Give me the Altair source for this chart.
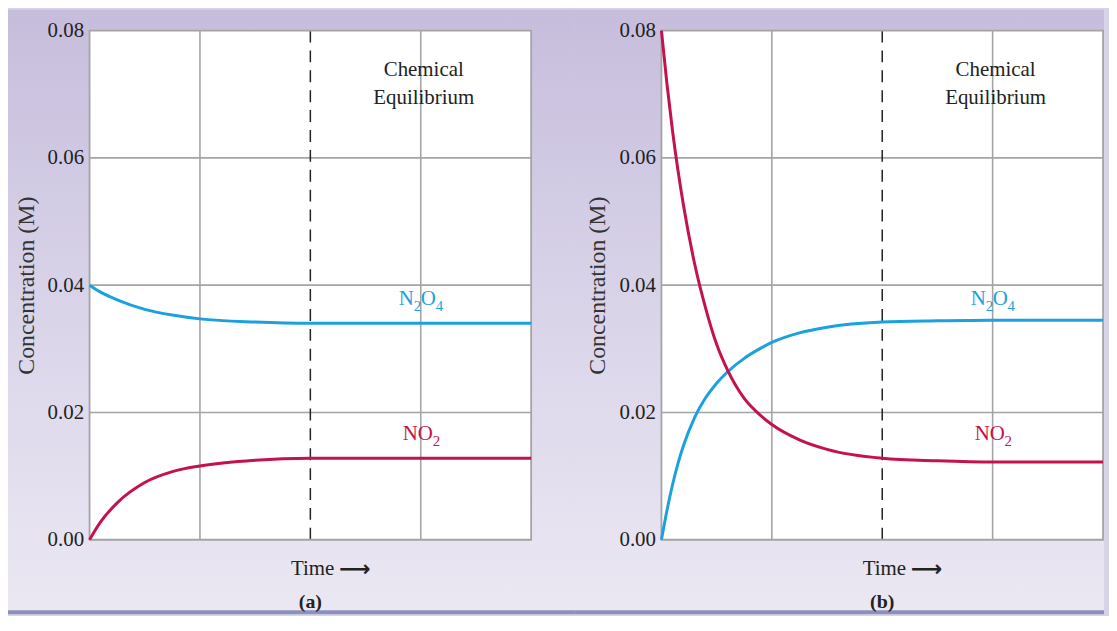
import altair as alt
import pandas as pd

# ---------------- data ----------------
time_a = [0.0, 0.1, 0.25, 0.5, 0.75, 1.0, 1.5, 2.0, 2.5, 3.0, 4.0]
n2o4_a = [0.0400, 0.0389, 0.0377, 0.0362, 0.0353, 0.0347, 0.0342, 0.0340, 0.0340, 0.0340, 0.0340]
no2_a = [0.0000, 0.0028, 0.0058, 0.0090, 0.0107, 0.0116, 0.0125, 0.0128, 0.0128, 0.0128, 0.0128]

time_b = [0.0, 0.05, 0.1, 0.15, 0.2, 0.3, 0.4, 0.5, 0.6, 0.75, 0.9, 1.0, 1.25, 1.5, 2.0, 2.5, 3.0, 4.0]
n2o4_b = [0.0000, 0.0046, 0.0086, 0.0120, 0.0148, 0.0192, 0.0223, 0.0246, 0.0264, 0.0285, 0.0301,
          0.0310, 0.0325, 0.0334, 0.0342, 0.0344, 0.0345, 0.0345]
no2_b = [0.0800, 0.0716, 0.0643, 0.0580, 0.0525, 0.0434, 0.0364, 0.0307, 0.0266, 0.0222, 0.0195,
         0.0181, 0.0157, 0.0142, 0.0128, 0.0124, 0.0122, 0.0122]

grid_times = [1.0, 3.0]
equilibrium_time = [2.0]
grid_conc = [0.02, 0.04, 0.06]
y_ticks = [0.00, 0.02, 0.04, 0.06, 0.08]
annotation_lines = ["Chemical", "Equilibrium"]
panel_tags = ["(a)", "(b)"]
time_label = "Time"
arrow_glyph = "⟶"

# ---------------- styling ----------------
W, H = 444, 512
SERIF = "Liberation Serif"
BLUE = "#1ba1dd"
RED = "#c4124a"
GRID = "#a4a4a4"
TXT = "#222222"

one = pd.DataFrame({"k": [0]})

x_scale = alt.Scale(domain=[0, 4], nice=False, zero=False)
y_scale = alt.Scale(domain=[0, 0.08], nice=False)

bg_gradient = alt.Gradient(
    gradient="linear",
    x1=0, y1=0, x2=0, y2=1,
    stops=[
        alt.GradientStop(offset=0, color="#c6bddc"),
        alt.GradientStop(offset=0.45, color="#d8d2e8"),
        alt.GradientStop(offset=1, color="#ebe8f3"),
    ],
)


def formula_layers(parts, t_val, c_val, color):
    layers = []
    for txt, dx, dy, size in parts:
        layers.append(
            alt.Chart(one).mark_text(
                text=txt, font=SERIF, fontSize=size, color=color,
                align="left", baseline="alphabetic", dx=dx, dy=dy,
            ).encode(x=alt.datum(t_val), y=alt.datum(c_val))
        )
    return layers


N2O4_PARTS = [("N", -22, 0, 21), ("2", -7, 6, 15), ("O", 0, 0, 21), ("4", 15, 6, 15)]
NO2_PARTS = [("N", -18, 0, 21), ("O", -3, 0, 21), ("2", 12, 6, 15)]


def panel(times, n2o4, no2, tag, left_ext, right_ext):
    df = pd.DataFrame({"t": times, "n2o4": n2o4, "no2": no2})

    x_enc = alt.X(
        "t:Q", scale=x_scale,
        axis=alt.Axis(title=None, labels=False, ticks=False, domain=False, grid=False),
    )
    y_axis = alt.Axis(
        values=y_ticks, format=".2f", grid=False, ticks=False, domain=False,
        labelFont=SERIF, labelFontSize=21, labelColor=TXT, labelPadding=6,
        title="Concentration (M)", titleFont=SERIF, titleFontSize=24,
        titleFontWeight="normal", titleColor="#333333", titlePadding=9, zindex=1,
    )

    background = alt.Chart(one).mark_rect(fill=bg_gradient).encode(
        x=alt.value(-left_ext), x2=alt.value(W + right_ext),
        y=alt.value(-21), y2=alt.value(H + 75),
    )
    band = alt.Chart(one).mark_rect(fill="#8d8fbd").encode(
        x=alt.value(-left_ext), x2=alt.value(W + right_ext),
        y=alt.value(H + 71), y2=alt.value(H + 75),
    )
    plot_bg = alt.Chart(one).mark_rect(fill="white").encode(
        x=alt.value(0), x2=alt.value(W), y=alt.value(0), y2=alt.value(H),
    )
    vgrid = alt.Chart(pd.DataFrame({"t": grid_times})).mark_rule(
        color=GRID, strokeWidth=1.6
    ).encode(x=alt.X("t:Q", scale=x_scale), y=alt.value(0), y2=alt.value(H))
    hgrid = alt.Chart(pd.DataFrame({"c": grid_conc})).mark_rule(
        color=GRID, strokeWidth=1.6
    ).encode(y=alt.Y("c:Q", scale=y_scale), x=alt.value(0), x2=alt.value(W))
    eq_line = alt.Chart(pd.DataFrame({"t": equilibrium_time})).mark_rule(
        color="#222222", strokeWidth=1.5, strokeDash=[12, 8]
    ).encode(x=alt.X("t:Q", scale=x_scale), y=alt.value(0), y2=alt.value(H))
    border = alt.Chart(one).mark_rect(
        fill="transparent", stroke=GRID, strokeWidth=1.8
    ).encode(x=alt.value(0), x2=alt.value(W), y=alt.value(0), y2=alt.value(H))

    line_n2o4 = alt.Chart(df).mark_line(
        color=BLUE, strokeWidth=3, interpolate="monotone"
    ).encode(x=x_enc, y=alt.Y("n2o4:Q", scale=y_scale, axis=y_axis))
    line_no2 = alt.Chart(df).mark_line(
        color=RED, strokeWidth=3, interpolate="monotone"
    ).encode(x=alt.X("t:Q", scale=x_scale), y=alt.Y("no2:Q", scale=y_scale))

    chem1 = alt.Chart(one).mark_text(
        text=annotation_lines[0], font=SERIF, fontSize=21, color=TXT,
        align="center", baseline="alphabetic", dx=3,
    ).encode(x=alt.datum(3), y=alt.datum(0.0728))
    chem2 = alt.Chart(one).mark_text(
        text=annotation_lines[1], font=SERIF, fontSize=21, color=TXT,
        align="center", baseline="alphabetic", dx=3,
    ).encode(x=alt.datum(3), y=alt.datum(0.0684))

    time_txt = alt.Chart(one).mark_text(
        text=time_label, font=SERIF, fontSize=21, color=TXT,
        align="right", baseline="middle", dx=24,
    ).encode(x=alt.datum(2), y=alt.value(H + 29))
    arrow_txt = alt.Chart(one).mark_text(
        text=arrow_glyph, font="DejaVu Sans", fontSize=22, fontWeight="bold", color=TXT,
        align="left", baseline="middle", dx=29,
    ).encode(x=alt.datum(2), y=alt.value(H + 29))

    tag_text = alt.Chart(one).mark_text(
        text=tag, font=SERIF, fontSize=20, fontWeight="bold", color=TXT,
        align="center", baseline="middle",
    ).encode(x=alt.datum(2), y=alt.value(H + 63))

    layers = [background, band, plot_bg, vgrid, hgrid, eq_line, border,
              line_n2o4, line_no2, chem1, chem2, time_txt, arrow_txt, tag_text]
    layers += formula_layers(N2O4_PARTS, 3, 0.03687, BLUE)
    layers += formula_layers(NO2_PARTS, 3, 0.01560, RED)

    return alt.layer(*layers).properties(width=W, height=H)


left = panel(time_a, n2o4_a, no2_a, panel_tags[0], 82, 44)
right = panel(time_b, n2o4_b, no2_b, panel_tags[1], 87, 1)

chart = (
    alt.hconcat(left, right, spacing=0)
    .properties(padding=0, background="#d8d2e8")
    .configure_view(strokeWidth=0)
)

chart.save("out.html", embed_options={"renderer": "svg", "actions": False})
